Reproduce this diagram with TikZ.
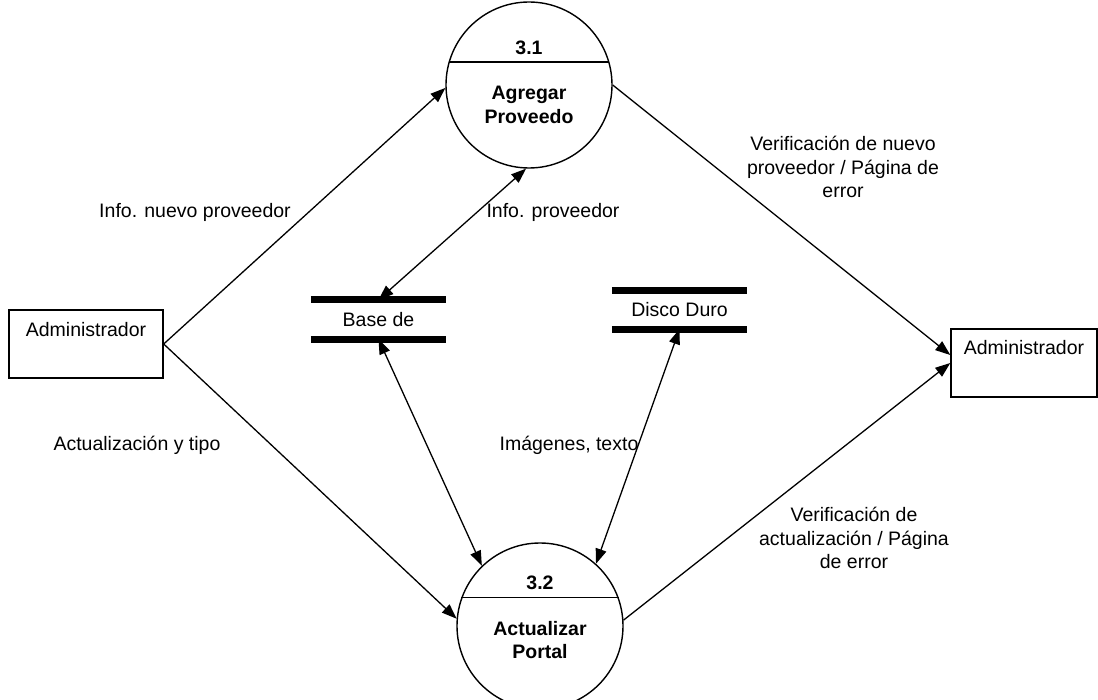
\documentclass[tikz,border=0pt]{standalone}
\usepackage{fontspec}
\setmainfont{Liberation Sans}
\usetikzlibrary{arrows.meta}

\begin{document}
\begin{tikzpicture}[x=1pt,y=-1pt,
    font=\fontsize{19.5}{23.5}\selectfont,
    proc/.style={draw, circle, line width=1.4pt, minimum size=166pt, inner sep=0pt},
    ptext/.style={align=center, inner sep=0pt, font=\fontsize{19.5}{23.5}\selectfont\bfseries},
    ext/.style={draw, line width=1.4pt, minimum width=154pt, minimum height=68pt, inner sep=0pt},
    store/.style={minimum width=135pt, minimum height=39pt, inner sep=0pt},
    bar/.style={line width=7pt},
    flow/.style={line width=1.3pt, -{Triangle[length=15pt,width=11pt]}},
    dflow/.style={line width=1.3pt, {Triangle[length=15pt,width=11pt]}-{Triangle[length=15pt,width=11pt]}},
    lbl/.style={align=center, inner sep=0pt}]

  \useasboundingbox (0,0) rectangle (1098,700);

  % Processes
  \node[proc] (c31) at (529,85) {};
  \draw[line width=1.3pt] (c31.164) -- (c31.16);
  \node[ptext] (n31) at (529,48) {3.1};
  \node[ptext] (t31) at (529,105) {Agregar\\Proveedo};

  \node[proc] (c32) at (540,626) {};
  \draw[line width=1.3pt] (c32.160) -- (c32.20);
  \node[ptext] (n32) at (540,583) {3.2};
  \node[ptext] (t32) at (540,640) {Actualizar\\Portal};

  % Externals
  \node[ext, label={[anchor=base, yshift=-27pt]north:Administrador}] (a1) at (86,344) {};
  \node[ext, minimum width=146pt, label={[anchor=base, yshift=-26pt]north:Administrador}] (a2) at (1024,363) {};

  % Stores
  \node[store] (bd) at (378.5,319.5) {Base de};
  \draw[bar] (bd.north west) -- (bd.north east);
  \draw[bar] (bd.south west) -- (bd.south east);
  \node[store, minimum height=38pt] (dd) at (679.5,310) {Disco Duro};
  \draw[bar] (dd.north west) -- (dd.north east);
  \draw[bar] (dd.south west) -- (dd.south east);

  % Flows
  \draw[flow] (a1.east) -- (c31.182);
  \draw[flow] (a1.east) -- (c32.175);
  \draw[flow] (c31.east) -- ([yshift=8pt]a2.west);
  \draw[flow] (c32.4) -- (a2.west);
  \draw[dflow] (c31.268) -- (bd.north);
  \draw[dflow] (bd.south) -- (c32.134);
  \draw[dflow] (dd.south) -- (c32.48);

  % Labels
  \node[lbl] (l1) at (195,212) {Info. nuevo proveedor};
  \node[lbl] (l2) at (553,212) {Info. proveedor};
  \node[lbl] (l3) at (843,167) {Verificación de nuevo\\proveedor / Página de\\error};
  \node[lbl] (l4) at (137,445) {Actualización y tipo};
  \node[lbl] (l5) at (569,445) {Imágenes, texto};
  \node[lbl] (l6) at (854,538) {Verificación de\\actualización / Página\\de error};
\end{tikzpicture}
\end{document}
